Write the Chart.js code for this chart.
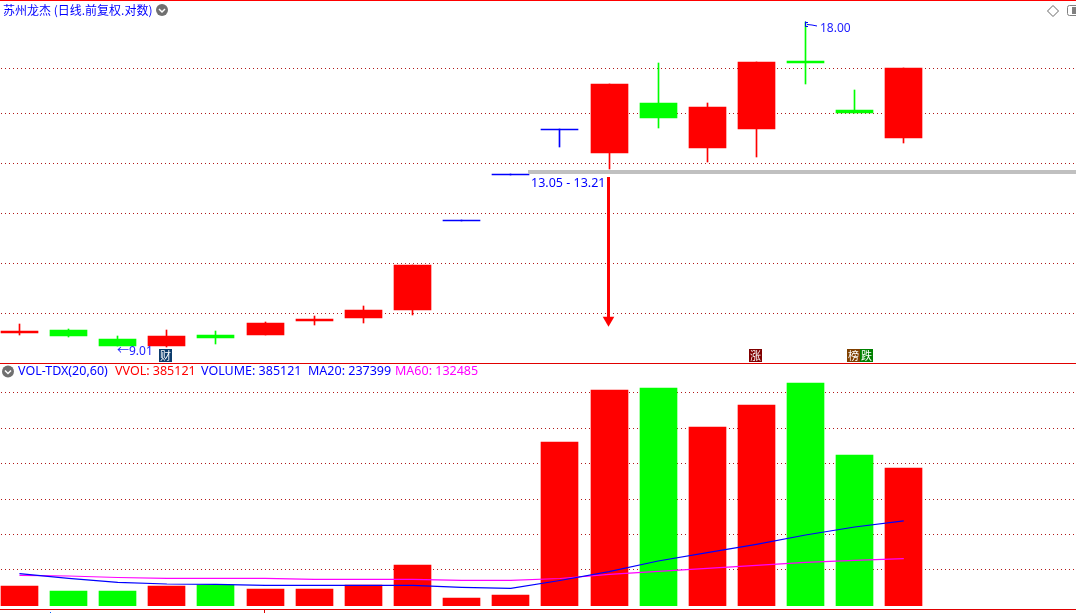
<!DOCTYPE html>
<html lang="zh">
<head>
<meta charset="utf-8">
<title>苏州龙杰</title>
<script src="https://cdn.jsdelivr.net/npm/chart.js@4"></script>
<style>
html,body{margin:0;padding:0;background:#fff;width:1076px;height:613px;overflow:hidden}
#stage{position:relative;width:1076px;height:613px;font:12.5px "Noto Sans","Noto Sans CJK SC",sans-serif;white-space:nowrap}
canvas{position:absolute;left:0;display:block}
.t{position:absolute;line-height:14px;height:14px}
.rule{position:absolute;left:0;width:1076px;height:1px}
.badge{position:absolute;top:349px;width:13px;height:13px;color:#fff;font:11px/13px "Noto Sans CJK SC",sans-serif;text-align:center;overflow:hidden}
svg{position:absolute;left:0;top:0}
</style>
</head>
<body>
<div id="stage">
  <canvas id="priceChart" width="1076" height="363" style="top:0"></canvas>
  <canvas id="volumeChart" width="1076" height="242" style="top:364px"></canvas>

  <div class="rule" style="top:0;background:#ff0000"></div>
  <div class="rule" style="top:363px;background:#e00000"></div>
  <div class="rule" style="top:609px;background:#e00000"></div>
  <div style="position:absolute;left:264px;top:610px;width:1px;height:3px;background:#e00000"></div>
  <div style="position:absolute;left:50px;top:612px;width:1px;height:1px;background:#0060ff"></div>

  <svg width="1076" height="613" style="pointer-events:none">
    <circle cx="162" cy="10" r="6" fill="#707070"/>
    <path d="M159 9 L162 12 L165 9" fill="none" stroke="#fff" stroke-width="1.5"/>
    <circle cx="8" cy="371.5" r="6" fill="#707070"/>
    <path d="M5 370.5 L8 373.5 L11 370.5" fill="none" stroke="#fff" stroke-width="1.5"/>
    <path d="M1053 5.5 L1058.5 11 L1053 16.5 L1047.5 11 Z" fill="#fff" stroke="#666" stroke-width="1"/>
    <rect x="1067.5" y="5.5" width="12" height="10" rx="2" fill="#fff" stroke="#808080"/>
    <rect x="1072" y="7" width="6" height="7" fill="#808080"/>
    <path d="M805.5 21.5 V26.5 M805.5 22.5 H808 M805.5 26.5 H808 M807 24.5 L812 25 L817 26" fill="none" stroke="#0000ff" stroke-width="1"/>
  </svg>

  <div class="t" style="left:3px;top:3px;color:#0000ff;font-size:12px;font-family:'Noto Sans CJK SC','Noto Sans',sans-serif">苏州龙杰 (日线.前复权.对数)</div>
  <div class="t" style="left:820px;top:21px;color:#2020ff;font-size:12px">18.00</div>
  <div class="t" style="left:531px;top:176px;color:#0000ff">13.05 - 13.21</div>
  <div class="t" style="left:117px;top:344px;color:#2020ff;font-size:12px">←9.01</div>

  <div class="badge" style="left:159px;background:#0c3c6c">财</div>
  <div class="badge" style="left:749px;background:#800000">涨</div>
  <div class="badge" style="left:847px;background:#804000">榜</div>
  <div class="badge" style="left:860px;background:#008000">跌</div>

  <div class="t" style="left:18px;top:364px;color:#0000ff">VOL-TDX(20,60)</div>
  <div class="t" style="left:115px;top:364px;color:#ff0000">VVOL: 385121</div>
  <div class="t" style="left:201px;top:364px;color:#0000ff">VOLUME: 385121</div>
  <div class="t" style="left:308px;top:364px;color:#0000ff">MA20: 237399</div>
  <div class="t" style="left:395px;top:364px;color:#ff00ff">MA60: 132485</div>
</div>

<script>
const days   = [0, 1, 2, 3, 4, 5, 6, 7, 8, 9, 10, 11, 12, 13, 14, 15, 16, 17, 18];
const opens  = [9.282, 9.342, 9.164, 9.029, 9.243, 9.243, 9.522, 9.583, 9.748, 11.782, 12.995, 14.302, 13.618, 15.148, 13.764, 14.332, 16.566, 14.924, 14.060];
const closes = [9.322, 9.223, 9.029, 9.223, 9.184, 9.482, 9.563, 9.748, 10.728, 11.807, 13.023, 14.332, 15.774, 14.672, 15.020, 16.530, 16.495, 14.829, 16.320];
const highs  = [9.462, 9.361, 9.223, 9.342, 9.322, 9.502, 9.624, 9.831, 10.728, 11.807, 13.023, 14.332, 15.774, 16.495, 15.148, 16.530, 18.00, 15.573, 16.320];
const lows   = [9.243, 9.203, 9.029, 9.01, 9.067, 9.243, 9.442, 9.482, 9.645, 11.782, 12.995, 13.793, 13.162, 14.363, 13.360, 13.503, 15.774, 14.829, 13.911];
const lockedDays = [9, 10, 11];
const volumes = [55820, 41865, 41865, 55820, 58611, 47447, 47447, 58611, 114431, 22328, 30701, 457724, 602856, 608438, 499589, 560991, 622393, 421441, 385121];
const ma20 = [90149, 77311, 66147, 61402, 60565, 57774, 57774, 57774, 57774, 52192, 49401, 71171, 95731, 125595, 148760, 172205, 198161, 220489, 237399];
const ma60 = [85684, 83730, 79544, 77311, 77311, 77311, 74520, 74520, 74520, 71729, 71729, 76753, 88475, 96848, 105221, 113594, 121967, 127549, 132485];
const priceGrid  = [16.303, 14.813, 13.317, 11.972, 10.762, 9.676];
const volumeGrid = [102430, 200115, 297800, 396880, 495960, 595040];
const zoneDays  = [10.3511, 21.5052];
const zonePrice = [13.078, 13.078];
const arrowDays   = [11.9896, 11.9896];
const arrowPrices = [12.94, 9.542];

const RED = '#ff0000', GREEN = '#00ff00', BLUE = '#0000ff', MAGENTA = '#ff00ff';
const candleColor = days.map(i => lockedDays.includes(i) ? BLUE : (closes[i] >= opens[i] ? RED : GREEN));
const volumeColor = days.map(i => closes[i] >= opens[i] ? RED : GREEN);

const xRange = {min: -0.39589, max: 21.5052};

/* crisp pixel edges for the bars, as in the reference */
const snapBars = {
  id: 'snapBars',
  afterDatasetsUpdate(chart) {
    chart.data.datasets.forEach((ds, i) => {
      const meta = chart.getDatasetMeta(i);
      if (meta.type !== 'bar') return;
      meta.data.forEach(el => {
        el.x = Math.round(el.x - el.width / 2) + el.width / 2;
        el.y = Math.round(el.y);
        el.base = Math.round(el.base);
      });
    });
  }
};

function yAxis(type, min, max, gridValues) {
  return {
    type, min, max, position: 'left',
    afterBuildTicks: s => { s.ticks = gridValues.map(v => ({value: v})); },
    afterFit: s => { s.width = 0; },
    ticks: {display: false, autoSkip: false},
    border: {display: false, dash: [1, 3], dashOffset: 3},
    grid: {color: '#b01818', lineWidth: 1, drawTicks: false, tickLength: 0}
  };
}
const baseOptions = {
  responsive: false, animation: false, devicePixelRatio: 1,
  layout: {padding: 0, autoPadding: false},
  plugins: {legend: {display: false}, tooltip: {enabled: false}}
};
const xAxis = {type: 'linear', display: false, offset: false, min: xRange.min, max: xRange.max, grid: {offset: false}};

new Chart(document.getElementById('priceChart'), {
  type: 'bar',
  plugins: [snapBars],
  data: {datasets: [
    {type: 'line', order: 1, data: arrowDays.map((d, i) => ({x: d, y: arrowPrices[i]})),
     borderColor: RED, borderWidth: 3, pointStyle: 'triangle', pointRotation: [0, 180],
     pointRadius: [0, 6.7], pointBackgroundColor: RED, pointBorderWidth: 0, tension: 0},
    {type: 'line', order: 2, data: zoneDays.map((d, i) => ({x: d, y: zonePrice[i]})),
     borderColor: '#c0c0c0', borderWidth: 4, pointRadius: 0, tension: 0},
    {order: 3, grouped: false, barThickness: 37, data: days.map(i => ({x: i, y: [opens[i], closes[i]]})),
     backgroundColor: candleColor, borderWidth: 0},
    {order: 4, grouped: false, barThickness: 1, data: days.map(i => ({x: i, y: [lows[i], highs[i]]})),
     backgroundColor: candleColor, borderWidth: 0}
  ]},
  options: {...baseOptions, scales: {x: xAxis, y: yAxis('logarithmic', 8.708, 18.863, priceGrid)}}
});

new Chart(document.getElementById('volumeChart'), {
  type: 'bar',
  plugins: [snapBars],
  data: {datasets: [
    {type: 'line', order: 1, data: days.map(i => ({x: i, y: ma20[i]})),
     borderColor: BLUE, borderWidth: 1.2, pointRadius: 0, tension: 0},
    {type: 'line', order: 2, data: days.map(i => ({x: i, y: ma60[i]})),
     borderColor: MAGENTA, borderWidth: 1.2, pointRadius: 0, tension: 0},
    {order: 3, grouped: false, barThickness: 37, data: days.map(i => ({x: i, y: volumes[i]})),
     backgroundColor: volumeColor, borderWidth: 0}
  ]},
  options: {...baseOptions, scales: {x: xAxis, y: yAxis('linear', 0, 675422, volumeGrid)}}
});
</script>
</body>
</html>
